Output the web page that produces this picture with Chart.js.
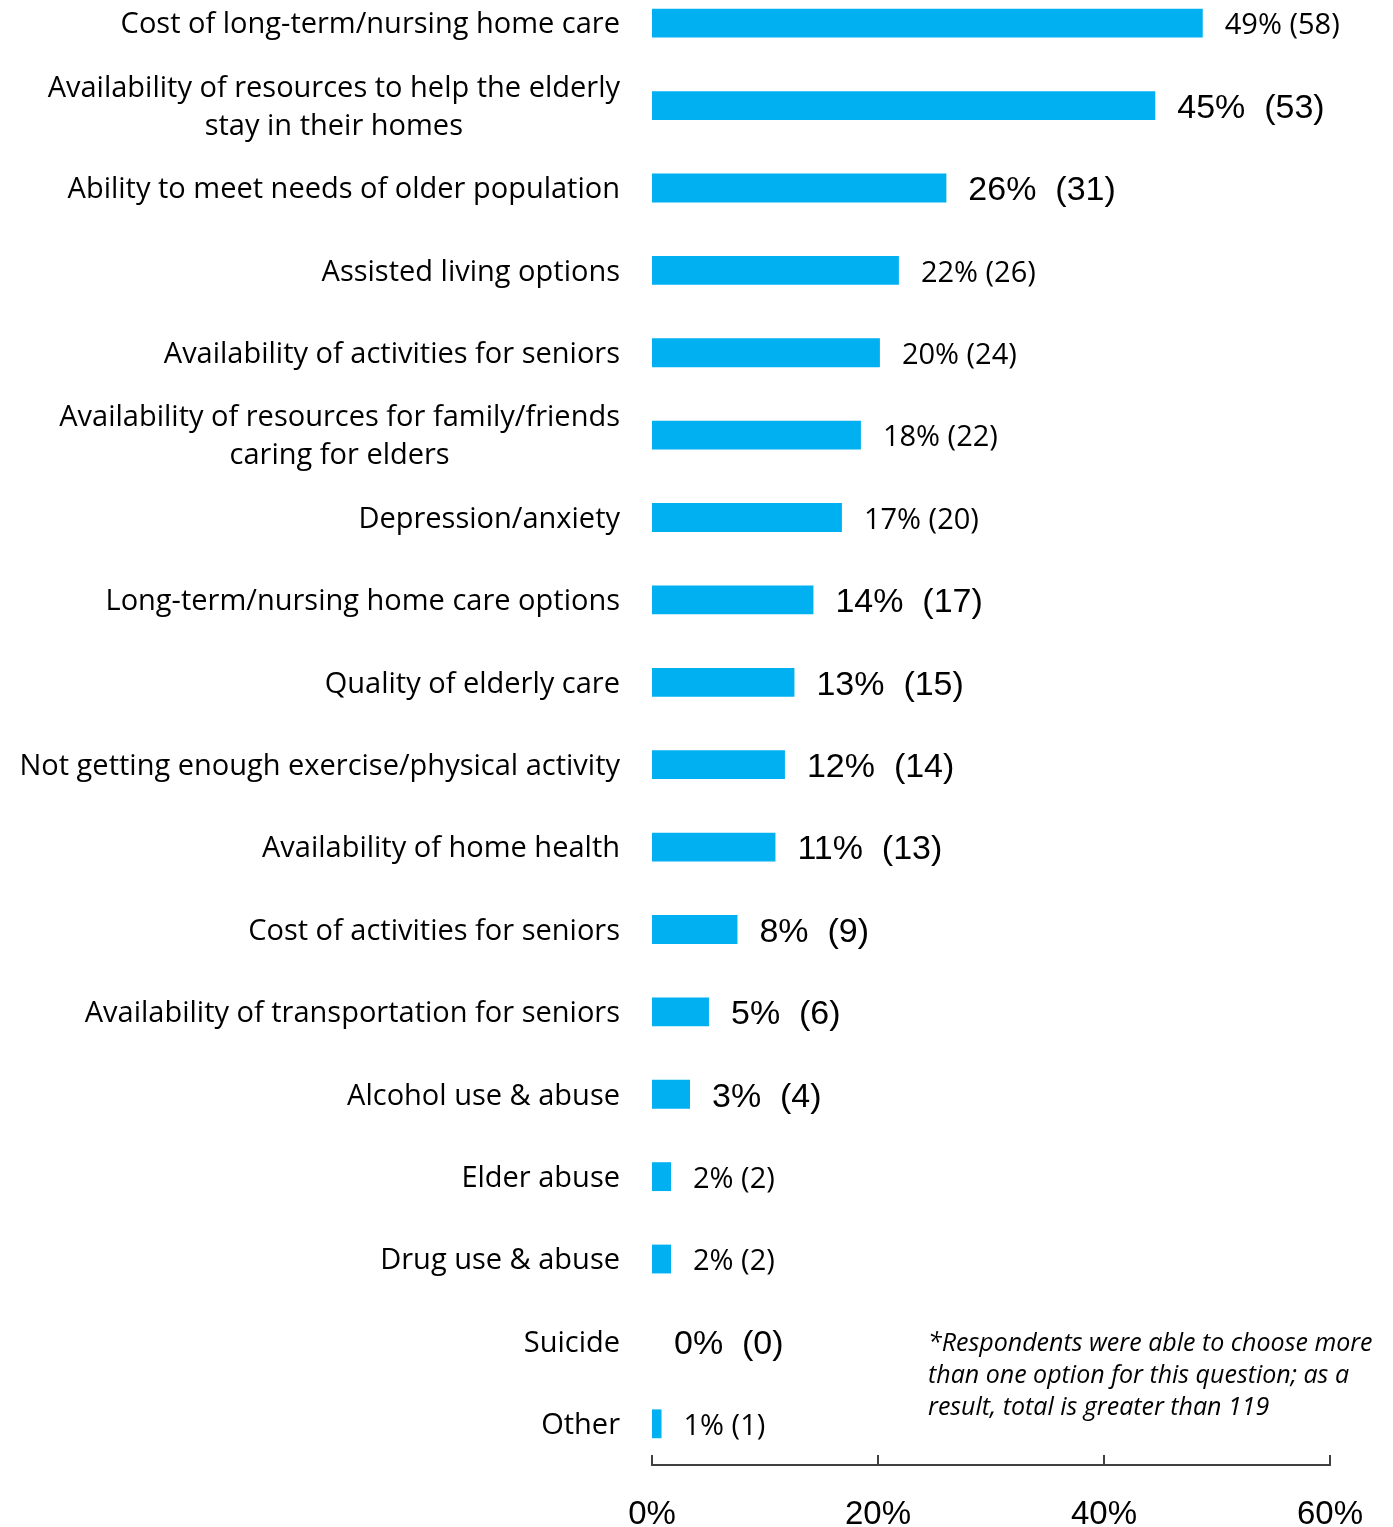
<!DOCTYPE html>
<html>
<head>
<meta charset="utf-8">
<script src="https://cdn.jsdelivr.net/npm/chart.js@4/dist/chart.umd.min.js"></script>
<style>
  html, body { margin: 0; padding: 0; background: #ffffff; overflow: hidden; }
  #wrap { position: absolute; left: 0; top: -18px; width: 1393px; height: 1545px; }
</style>
</head>
<body>
<div id="wrap"><canvas id="chart"></canvas></div>
<script>
// Community concerns about aging, ranked by number of respondents
const categories = [
  'Cost of long-term/nursing home care',
  ['Availability of resources to help the elderly', 'stay in their homes'],
  'Ability to meet needs of older population',
  'Assisted living options',
  'Availability of activities for seniors',
  ['Availability of resources for family/friends', 'caring for elders'],
  'Depression/anxiety',
  'Long-term/nursing home care options',
  'Quality of elderly care',
  'Not getting enough exercise/physical activity',
  'Availability of home health',
  'Cost of activities for seniors',
  'Availability of transportation for seniors',
  'Alcohol use & abuse',
  'Elder abuse',
  'Drug use & abuse',
  'Suicide',
  'Other'
];

// Respondents choosing each option
const counts = [58, 53, 31, 26, 24, 22, 20, 17, 15, 14, 13, 9, 6, 4, 2, 2, 0, 1];

// Number of people answering the question
const respondentTotal = 119;

// Axis ticks (percent)
const axisTicks = [0, 20, 40, 60];

const footnoteLines = [
  '*Respondents were able to choose more',
  'than one option for this question; as a',
  'result, total is greater than 119'
];

const percents = counts.map(c => c / respondentTotal * 100);

// Rows whose value label is set in the larger type
const largeLabelRows = [1, 2, 7, 8, 9, 10, 11, 12, 13, 16];

const BAR_COLOR = '#00B0F0';
const LABEL_FONT = '"Open Sans", Lato, sans-serif';
const NUM_FONT = '"Liberation Sans", Arial, sans-serif';

// Two-line category labels: keep the block right-aligned, center the lines within it
const centerWrappedLabels = {
  id: 'centerWrappedLabels',
  beforeDraw(chart) {
    const ys = chart.scales.y;
    const ctx = chart.ctx;
    ys.getLabelItems().forEach(item => {
      if (Array.isArray(item.label) && item.label.length > 1 && item.options.textAlign === 'right') {
        ctx.save();
        ctx.font = item.font.string;
        const w = Math.max(...item.label.map(l => ctx.measureText(l).width));
        ctx.restore();
        item.options.textAlign = 'center';
        item.options.translation = [item.options.translation[0] - w / 2, item.options.translation[1]];
      }
    });
  }
};

const valueLabels = {
  id: 'valueLabels',
  afterDatasetsDraw(chart) {
    const ctx = chart.ctx;
    const meta = chart.getDatasetMeta(0);
    ctx.save();
    ctx.fillStyle = '#000000';
    ctx.textAlign = 'left';
    ctx.textBaseline = 'middle';
    meta.data.forEach((bar, i) => {
      const pct = Math.round(percents[i]);
      const large = largeLabelRows.includes(i);
      const text = large ? pct + '%  (' + counts[i] + ')' : pct + '% (' + counts[i] + ')';
      ctx.font = large ? '34px ' + NUM_FONT : '29px ' + LABEL_FONT;
      ctx.fillText(text, bar.x + 22, bar.y + 3);
    });
    ctx.restore();
  }
};

const axisDecor = {
  id: 'axisDecor',
  afterDraw(chart) {
    const ctx = chart.ctx;
    const xs = chart.scales.x;
    const bottom = chart.chartArea.bottom;
    ctx.save();
    // inward tick marks on the value axis
    ctx.strokeStyle = '#404040';
    ctx.lineWidth = 2;
    axisTicks.forEach(v => {
      const px = Math.round(xs.getPixelForValue(v));
      ctx.beginPath();
      ctx.moveTo(px, bottom - 10);
      ctx.lineTo(px, bottom);
      ctx.stroke();
    });
    // footnote
    ctx.fillStyle = '#000000';
    ctx.font = 'italic 25px ' + LABEL_FONT;
    ctx.textAlign = 'left';
    ctx.textBaseline = 'middle';
    const x0 = 928;
    const y0 = 1344 + 18;
    footnoteLines.forEach((line, k) => {
      ctx.fillText(line, x0, y0 + k * 32);
    });
    ctx.restore();
  }
};

new Chart(document.getElementById('chart'), {
  type: 'bar',
  data: {
    labels: categories,
    datasets: [{
      data: percents,
      backgroundColor: BAR_COLOR,
      borderWidth: 0,
      barPercentage: 0.35,
      categoryPercentage: 1.0
    }]
  },
  options: {
    indexAxis: 'y',
    responsive: true,
    maintainAspectRatio: false,
    animation: false,
    layout: { padding: { left: 0, right: 63, top: 0, bottom: 0 } },
    plugins: {
      legend: { display: false },
      tooltip: { enabled: false },
      title: { display: false }
    },
    scales: {
      x: {
        min: 0,
        max: 60,
        afterBuildTicks(scale) { scale.ticks = axisTicks.map(v => ({ value: v })); },
        afterFit(scale) {
          scale.height = 62;
          scale.paddingLeft = 0;
          scale.paddingRight = 0;
        },
        grid: { display: false, drawTicks: false },
        border: { display: true, color: '#404040', width: 2 },
        ticks: {
          padding: 30,
          color: '#000000',
          font: { family: NUM_FONT, size: 33 },
          callback: v => v + '%',
          maxRotation: 0
        }
      },
      y: {
        afterFit(scale) {
          scale.width = 652;
          scale.paddingTop = 0;
          scale.paddingBottom = 0;
        },
        grid: { display: false, drawTicks: false },
        border: { display: false },
        ticks: {
          padding: 32,
          labelOffset: 2,
          color: '#000000',
          font: { family: LABEL_FONT, size: 29, lineHeight: 1.31 },
          autoSkip: false
        }
      }
    }
  },
  plugins: [centerWrappedLabels, valueLabels, axisDecor]
});
</script>
</body>
</html>
